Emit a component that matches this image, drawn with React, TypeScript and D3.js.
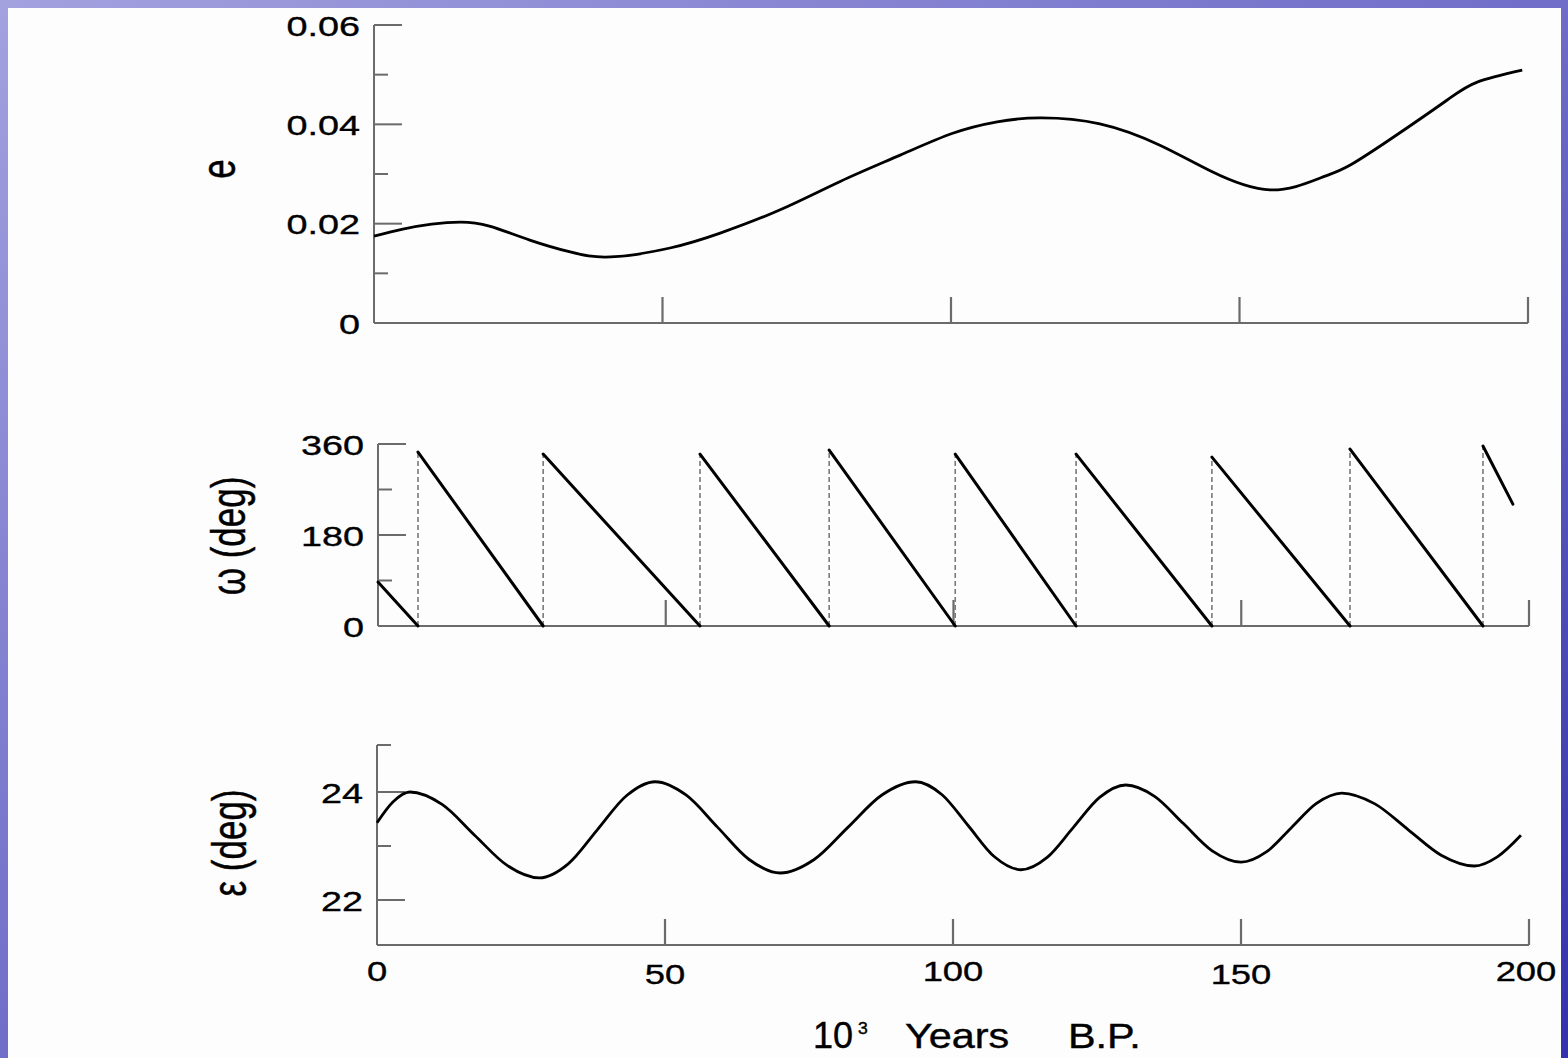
import React from "react";
import * as d3 from "d3";

// ---------- data ----------
const eccYears = [0, 5, 10, 15, 20, 27, 34, 41, 51.3, 60, 70.4, 80.8, 91.2, 100.3, 108, 115.4, 125.8, 136.2, 145, 155.3, 164, 169.2, 177.8, 186, 191.2, 199];
const eccValues = [0.0175, 0.0189, 0.0199, 0.0203, 0.0195, 0.0167, 0.0143, 0.0133, 0.0151, 0.0181, 0.0228, 0.0285, 0.0338, 0.0382, 0.0405, 0.0413, 0.0401, 0.0358, 0.0306, 0.0268, 0.0292, 0.0318, 0.0383, 0.0449, 0.0485, 0.0509];

const omegaStartYear = [0, 6.95, 28.7, 55.95, 78.4, 100.3, 121.3, 144.9, 168.9, 192.0];
const omegaStartDeg = [87, 344, 340, 340, 348, 340, 340, 334, 350, 356];
const omegaEndYear = [6.95, 28.7, 55.95, 78.4, 100.3, 121.3, 144.9, 168.9, 192.0, 197.2];
const omegaEndDeg = [0, 0, 0, 0, 0, 0, 0, 0, 0, 241];

const oblYears = [0, 2.8, 5.7, 11.3, 16.95, 22.6, 28.2, 33.2, 38.25, 43.3, 48.3, 53.7, 59.15, 64.6, 70, 75.9, 81.75, 87.6, 93.5, 98.1, 102.65, 107.2, 111.8, 116.35, 120.9, 125.45, 130, 135, 140, 145, 150, 154.4, 158.75, 163.1, 167.5, 173.25, 179, 184.75, 190.5, 194.5, 198.6];
const oblValues = [23.43, 23.82, 24.0, 23.77, 23.2, 22.64, 22.41, 22.67, 23.3, 23.93, 24.19, 23.94, 23.345, 22.75, 22.5, 22.75, 23.345, 23.94, 24.19, 23.95, 23.375, 22.8, 22.56, 22.79, 23.345, 23.9, 24.13, 23.92, 23.415, 22.91, 22.7, 22.89, 23.34, 23.79, 23.98, 23.78, 23.305, 22.83, 22.63, 22.8, 23.2];

const xTickValues = [50, 100, 150, 200];
const xTickLabels = ["0", "50", "100", "150", "200"];
const xLabelValues = [0, 50, 100, 150, 200];

const eMajor = [0.02, 0.04, 0.06];
const eMinor = [0.01, 0.03, 0.05];
const eLabelValues = [0, 0.02, 0.04, 0.06];
const eLabels = ["0", "0.02", "0.04", "0.06"];

const wMajor = [180, 360];
const wMinor = [90, 270];
const wLabelValues = [0, 180, 360];
const wLabels = ["0", "180", "360"];

const oMajor = [22, 24];
const oMinor = [23];
const oLabelValues = [22, 24];
const oLabels = ["22", "24"];

// ---------- scales ----------
const xTop = d3.scaleLinear().domain([0, 200]).range([374, 1528]);
const yE = d3.scaleLinear().domain([0, 0.06]).range([323, 25]);

const xMid = d3.scaleLinear().domain([0, 200]).range([378, 1529]);
const yW = d3.scaleLinear().domain([0, 360]).range([626, 444]);

const xBot = d3.scaleLinear().domain([0, 200]).range([377, 1529]);
const yO = d3.scaleLinear().domain([22, 24]).range([900, 792]);
const oTopVal = yO.invert(745);
const oBotVal = yO.invert(945);

const AXIS = "#6b6b6b";
const FONT = "'Liberation Sans', Arial, sans-serif";

function SText({ x, y, size, sx, anchor, children, rotate }: any) {
  const tr = `translate(${x},${y}) scale(${sx},1)` + (rotate ? " rotate(-90)" : "");
  return (
    <text
      transform={tr}
      fontSize={size}
      fontFamily={FONT}
      textAnchor={anchor}
      dominantBaseline={rotate ? "alphabetic" : "central"}
      fill="#000"
      stroke="#000"
      strokeWidth={0.35}
    >
      {children}
    </text>
  );
}

function Panel({ xs, ys, yMin, yMax, major, minor, labelVals, labels }: any) {
  const x0 = xs(0);
  const y0 = ys(yMin);
  const yT = ys(yMax);
  return (
    <g>
      <line x1={x0} x2={x0} y1={yT} y2={y0} stroke={AXIS} strokeWidth={2} />
      <line x1={x0} x2={xs(200)} y1={y0} y2={y0} stroke={AXIS} strokeWidth={2} />
      {major.map((v: number) => (
        <line key={"M" + v} x1={x0} x2={x0 + 28} y1={ys(v)} y2={ys(v)} stroke={AXIS} strokeWidth={2} />
      ))}
      {minor.map((v: number) => (
        <line key={"m" + v} x1={x0} x2={x0 + 14} y1={ys(v)} y2={ys(v)} stroke={AXIS} strokeWidth={2} />
      ))}
      {xTickValues.map((v) => (
        <line key={"x" + v} x1={xs(v)} x2={xs(v)} y1={y0} y2={y0 - 26} stroke={AXIS} strokeWidth={2.2} />
      ))}
      {labelVals.map((v: number, i: number) => (
        <SText key={"l" + v} x={x0 - 14} y={ys(v) + 1} size={28} sx={1.35} anchor="end">
          {labels[i]}
        </SText>
      ))}
    </g>
  );
}

export default function App() {
  const eLine = d3
    .line<number>()
    .x((_, i) => xTop(eccYears[i]))
    .y((d) => yE(d))
    .curve(d3.curveNatural);
  const oLine = d3
    .line<number>()
    .x((_, i) => xBot(oblYears[i]))
    .y((d) => yO(d))
    .curve(d3.curveMonotoneX);

  return (
    <svg width={1568} height={1058} style={{ position: "absolute", left: 0, top: 0 }}>
      <defs>
        <linearGradient id="bg" x1="0" y1="0" x2="1" y2="1">
          <stop offset="0" stopColor="#a3a1de" />
          <stop offset="0.5" stopColor="#6f6dc8" />
          <stop offset="1" stopColor="#3432aa" />
        </linearGradient>
      </defs>
      <rect x={0} y={0} width={1568} height={1058} fill="url(#bg)" />
      <rect x={8} y={8} width={1553} height={1050} fill="#fdfdfd" />

      {/* Top panel: eccentricity */}
      <Panel xs={xTop} ys={yE} yMin={0} yMax={0.06} major={eMajor} minor={eMinor} labelVals={eLabelValues} labels={eLabels} />
      <path d={eLine(eccValues) || ""} fill="none" stroke="#000" strokeWidth={2.8} />
      <SText x={235} y={169} size={35} sx={1.4} anchor="middle" rotate>
        e
      </SText>

      {/* Middle panel: precession */}
      <Panel xs={xMid} ys={yW} yMin={0} yMax={360} major={wMajor} minor={wMinor} labelVals={wLabelValues} labels={wLabels} />
      {omegaStartYear.map((t, i) =>
        i > 0 ? (
          <line
            key={"d" + i}
            x1={xMid(t)}
            x2={xMid(t)}
            y1={yW(0)}
            y2={yW(omegaStartDeg[i])}
            stroke="#7a7a7a"
            strokeWidth={1.6}
            strokeDasharray="5,3"
          />
        ) : null
      )}
      {omegaStartYear.map((t, i) => (
        <line
          key={"s" + i}
          x1={xMid(t)}
          y1={yW(omegaStartDeg[i])}
          x2={xMid(omegaEndYear[i])}
          y2={yW(omegaEndDeg[i])}
          stroke="#000"
          strokeWidth={3}
          strokeLinecap="round"
        />
      ))}
      <SText x={245} y={536} size={35} sx={1.35} anchor="middle" rotate>
        ω (deg)
      </SText>

      {/* Bottom panel: obliquity */}
      <Panel xs={xBot} ys={yO} yMin={oBotVal} yMax={oTopVal} major={oMajor} minor={[...oMinor, oTopVal]} labelVals={oLabelValues} labels={oLabels} />
      <path d={oLine(oblValues) || ""} fill="none" stroke="#000" strokeWidth={2.8} />
      <SText x={246} y={843} size={35} sx={1.35} anchor="middle" rotate>
        ε (deg)
      </SText>

      {xLabelValues.map((v, i) => (
        <SText key={"xl" + v} x={xBot(v) + (i === 4 ? -3 : 0)} y={i % 2 === 1 ? 975 : 972} size={28} sx={1.3} anchor="middle">
          {xTickLabels[i]}
        </SText>
      ))}

      {/* x-axis title */}
      <g fontFamily={FONT} fill="#000" stroke="#000" strokeWidth={0.4}>
        <text transform="translate(813,1048) scale(1.0,1)" fontSize={36}>10</text>
        <text transform="translate(858,1034) scale(1.1,1)" fontSize={16}>3</text>
        <text transform="translate(905,1048) scale(1.15,1)" fontSize={36}>Years</text>
        <text transform="translate(1068,1048) scale(1.15,1)" fontSize={36}>B.P.</text>
      </g>
    </svg>
  );
}
